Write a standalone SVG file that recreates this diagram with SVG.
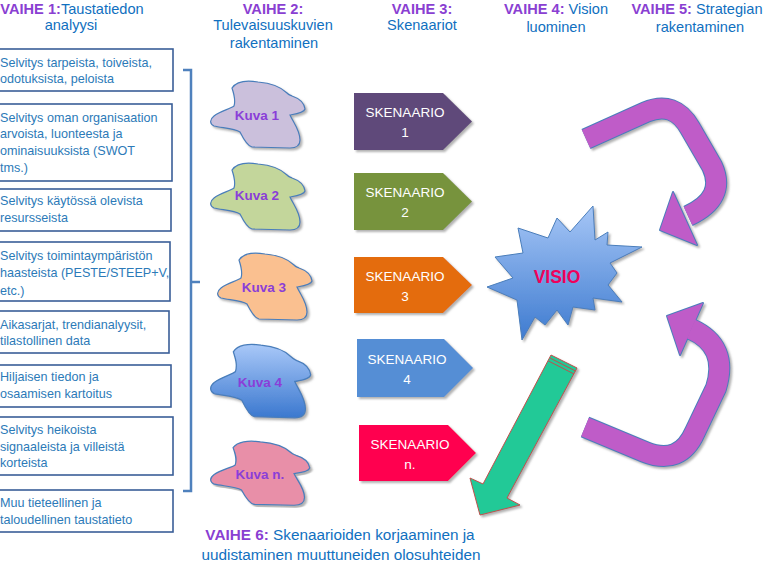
<svg xmlns="http://www.w3.org/2000/svg" xmlns:xlink="http://www.w3.org/1999/xlink" width="764" height="570" viewBox="0 0 764 570">
<style>
.hdr{font-family:"Liberation Sans",Arial,sans-serif;font-size:14.6px;fill:#1070C0;text-anchor:middle}
.vai{font-weight:bold;fill:#8A3FD2}
.box{fill:#fff;stroke:#3A5E98;stroke-width:1.6}
.bt{font-family:"Liberation Sans",Arial,sans-serif;font-size:12.6px;fill:#2C7AB8}
.cloud{stroke:#4A7EBB;stroke-width:1.2}
.kuva{font-family:"Liberation Sans",Arial,sans-serif;font-size:13.5px;font-weight:bold;fill:#8A3ED8;text-anchor:middle}
.sk{font-family:"Liberation Sans",Arial,sans-serif;font-size:13.5px;fill:#fff;text-anchor:middle}
.br{fill:none;stroke:#4F81BD;stroke-width:2.5}
.bot{font-family:"Liberation Sans",Arial,sans-serif;font-size:15.3px;fill:#1070C0;text-anchor:middle}
</style>
<defs>
<filter id="sh" x="-20%" y="-20%" width="140%" height="140%">
<feDropShadow dx="2" dy="2" stdDeviation="0.8" flood-color="#7F7F7F" flood-opacity="0.6"/>
</filter>
<path id="cl" d="M22,8 C26,2 36,0 48,2 C60,3 70,6 77,13 C79,15 80,15 82,16 C88,18 94,22 95,29 C94,33 86,34 80,35 C83,42 90,50 90,60 C90,66 86,68 80,68 L42,67 C37,66 33,58 30,52 C24,48 12,48 4,46 C0,44 -1,40 4,36 C10,31 20,29 24,26 C26,20 24,14 22,8 Z"/>
<linearGradient id="g4" x1="0" y1="0" x2="0" y2="1">
<stop offset="0" stop-color="#A9C8F8"/><stop offset="1" stop-color="#3B78CF"/>
</linearGradient>
<linearGradient id="gv" x1="0" y1="0" x2="0" y2="1">
<stop offset="0" stop-color="#A6C6F6"/><stop offset="1" stop-color="#3E7BD0"/>
</linearGradient>
</defs>
<rect width="764" height="570" fill="#fff"/>

<g id="headers">
<text class="hdr" x="72" y="13.5"><tspan class="vai">VAIHE 1:</tspan>Taustatiedon</text>
<text class="hdr" x="71" y="30">analyysi</text>
<text class="hdr" x="273" y="13.5"><tspan class="vai">VAIHE 2:</tspan></text>
<text class="hdr" x="273" y="30">Tulevaisuuskuvien</text>
<text class="hdr" x="274" y="48">rakentaminen</text>
<text class="hdr" x="422" y="13.5"><tspan class="vai">VAIHE 3:</tspan></text>
<text class="hdr" x="422" y="30">Skenaariot</text>
<text class="hdr" x="556" y="14"><tspan class="vai">VAIHE 4:</tspan> Vision</text>
<text class="hdr" x="556" y="32">luominen</text>
<text class="hdr" x="697" y="14"><tspan class="vai">VAIHE 5:</tspan> Strategian</text>
<text class="hdr" x="700" y="32">rakentaminen</text>
</g>

<g id="box1"><rect class="box" x="-3" y="49" width="176" height="42"/>
<text class="bt" x="0" y="67">Selvitys tarpeista, toiveista,</text><text class="bt" x="0" y="83">odotuksista, peloista</text></g>
<g id="box2"><rect class="box" x="-3" y="104" width="175" height="77"/>
<text class="bt" x="0" y="122">Selvitys oman organisaation</text><text class="bt" x="0" y="138">arvoista, luonteesta ja</text><text class="bt" x="0" y="155">ominaisuuksista (SWOT</text><text class="bt" x="0" y="172">tms.)</text></g>
<g id="box3"><rect class="box" x="-3" y="189" width="174" height="42"/>
<text class="bt" x="0" y="205">Selvitys käytössä olevista</text><text class="bt" x="0" y="222">resursseista</text></g>
<g id="box4"><rect class="box" x="-3" y="242" width="173" height="59"/>
<text class="bt" x="0" y="260">Selvitys toimintaympäristön</text><text class="bt" x="0" y="277">haasteista (PESTE/STEEP+V,</text><text class="bt" x="0" y="295">etc.)</text></g>
<g id="box5"><rect class="box" x="-3" y="311" width="172" height="42"/>
<text class="bt" x="0" y="329">Aikasarjat, trendianalyysit,</text><text class="bt" x="0" y="345">tilastollinen data</text></g>
<g id="box6"><rect class="box" x="-3" y="365" width="174" height="42"/>
<text class="bt" x="0" y="381">Hiljaisen tiedon ja</text><text class="bt" x="0" y="398">osaamisen kartoitus</text></g>
<g id="box7"><rect class="box" x="-3" y="417" width="176" height="58"/>
<text class="bt" x="0" y="434">Selvitys heikoista</text><text class="bt" x="0" y="451">signaaleista ja villeistä</text><text class="bt" x="0" y="467">korteista</text></g>
<g id="box8"><rect class="box" x="-3" y="490" width="176" height="42"/>
<text class="bt" x="0" y="507">Muu tieteellinen ja</text><text class="bt" x="0" y="524">taloudellinen taustatieto</text></g>

<g id="kuva1"><use xlink:href="#cl" href="#cl" class="cloud" fill="#CBC0DC" filter="url(#sh)" transform="translate(210,80)"/><text class="kuva" x="257" y="120">Kuva 1</text></g>
<g id="kuva2"><use xlink:href="#cl" href="#cl" class="cloud" fill="#C3D69B" filter="url(#sh)" transform="translate(210,162)"/><text class="kuva" x="257" y="200">Kuva 2</text></g>
<g id="kuva3"><use xlink:href="#cl" href="#cl" class="cloud" fill="#FAC090" filter="url(#sh)" transform="translate(217,252)"/><text class="kuva" x="264" y="292">Kuva 3</text></g>
<g id="kuva4"><use xlink:href="#cl" href="#cl" class="cloud" fill="url(#g4)" filter="url(#sh)" transform="translate(210,343) scale(1.06,1.1)"/><text class="kuva" x="260" y="387">Kuva 4</text></g>
<g id="kuvan"><use xlink:href="#cl" href="#cl" class="cloud" fill="#E88FA8" filter="url(#sh)" transform="translate(210,440) scale(1.05,0.96)"/><text class="kuva" x="260" y="479">Kuva n.</text></g>

<g id="skenaario1"><path d="M354,93 H443 L472,121.5 L443,150 H354 Z" fill="#5F497A" filter="url(#sh)"/><text class="sk" x="405" y="117">SKENAARIO</text><text class="sk" x="405" y="137">1</text></g>
<g id="skenaario2"><path d="M354,173 H443 L472,201.5 L443,230 H354 Z" fill="#77933C" filter="url(#sh)"/><text class="sk" x="405" y="197">SKENAARIO</text><text class="sk" x="405" y="217">2</text></g>
<g id="skenaario3"><path d="M354,257 H443 L472,285 L443,313 H354 Z" fill="#E46C0A" filter="url(#sh)"/><text class="sk" x="405" y="281">SKENAARIO</text><text class="sk" x="405" y="301">3</text></g>
<g id="skenaario4"><path d="M357,339 H444 L473,368 L444,397 H357 Z" fill="#558ED5" filter="url(#sh)"/><text class="sk" x="407" y="364">SKENAARIO</text><text class="sk" x="407" y="384">4</text></g>
<g id="skenaarion"><path d="M359,425 H448 L476,453 L448,481 H359 Z" fill="#FF0050" filter="url(#sh)"/><text class="sk" x="410" y="449">SKENAARIO</text><text class="sk" x="410" y="469">n.</text></g>

<g id="visio">
<polygon points="593,206 595,240 608,232 607,245 642,247 610,263 617,273 608,285 622,302 593,298 595,310 573,307 568,325 557,310 545,325 535,317 522,340 517,300 487,287 513,278 495,257 523,253 518,228 548,238 557,218 570,232" fill="url(#gv)" stroke="#4A7EBB" stroke-width="1" filter="url(#sh)"/>
<text x="557" y="283" font-family="'Liberation Sans',Arial,sans-serif" font-size="17.5" font-weight="bold" fill="#F0005A" text-anchor="middle">VISIO</text>
</g>

<g id="connectors">
<path class="br" d="M183,70 H191 V491 H183 M191,282 H200"/>
<g filter="url(#sh)">
<path d="M586,139 L646,112 Q674,100 690,128 L712,166 Q727,198 688,216" fill="none" stroke="#4A7EBB" stroke-width="22" stroke-linejoin="round"/>
<polygon points="660,230 673,192 697,245" fill="#4A7EBB" stroke="#4A7EBB" stroke-width="2" stroke-linejoin="round"/>
<path d="M586,139 L646,112 Q674,100 690,128 L712,166 Q727,198 688,216" fill="none" stroke="#BF5BC8" stroke-width="20" stroke-linejoin="round"/>
<polygon points="660,230 673,192 697,245" fill="#BF5BC8"/>
</g>
<g filter="url(#sh)">
<path d="M585,427 L645,452 Q680,466 695,432 L716,388 Q729,346 691,329" fill="none" stroke="#4A7EBB" stroke-width="22" stroke-linejoin="round"/>
<polygon points="667,316 703,303 680,355" fill="#4A7EBB" stroke="#4A7EBB" stroke-width="2" stroke-linejoin="round"/>
<path d="M585,427 L645,452 Q680,466 695,432 L716,388 Q729,346 691,329" fill="none" stroke="#BF5BC8" stroke-width="20" stroke-linejoin="round"/>
<polygon points="667,316 703,303 680,355" fill="#BF5BC8"/>
</g>
<g filter="url(#sh)">
<polygon points="551,355 577,368 507,498 520,505 480,515 470,478 483,484" fill="#20C997" stroke="#C0504D" stroke-width="1"/>
<line x1="550" y1="358" x2="575.5" y2="371" stroke="#C0504D" stroke-width="1"/>
<line x1="548.5" y1="361" x2="574" y2="374" stroke="#C0504D" stroke-width="1"/>
</g>
</g>

<g id="vaihe6">
<text class="bot" x="340" y="540"><tspan class="vai">VAIHE  6:</tspan> Skenaarioiden korjaaminen ja</text>
<text class="bot" x="341" y="560">uudistaminen muuttuneiden olosuhteiden</text>
</g>
</svg>
